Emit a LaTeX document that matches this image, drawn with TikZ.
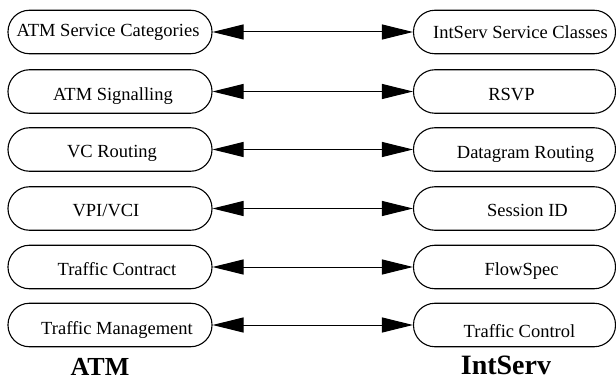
\documentclass[tikz,border=0pt]{standalone}
\usepackage{fontspec}
\setmainfont{Liberation Serif}
\usetikzlibrary{arrows.meta}
\newcommand{\tsh}[3]{\hspace*{#1pt}\raisebox{#2pt}{#3}}
\begin{document}
\begin{tikzpicture}[x=1pt,y=-1pt,
  boxL/.style={draw, line width=1.1pt, rounded corners=21.5pt, minimum width=204pt, minimum height=43.5pt, inner sep=0pt, text height=17pt, text depth=1pt, font=\fontsize{18.5}{20}\selectfont},
  boxR/.style={boxL, minimum width=202pt},
  link/.style={line width=1pt, {Triangle[length=31pt,width=15pt]}-{Triangle[length=31pt,width=15pt]}},
  title/.style={anchor=base}]
\useasboundingbox (0,0) rectangle (616,385);
\node[boxL] (l1) at (110,32) {\tsh{-4}{3}{ATM Service Categories}};
\node[boxL] (l2) at (110,91.5) {\tsh{6}{-1}{ATM Signalling}};
\node[boxL] (l3) at (110,149.5) {\tsh{4}{0}{VC Routing}};
\node[boxL] (l4) at (110,208.5) {\tsh{-8}{0}{VPI/VCI}};
\node[boxL] (l5) at (110,267) {\tsh{14}{0}{Traffic Contract}};
\node[boxL] (l6) at (110,325) {\tsh{14}{-1}{Traffic Management}};
\node[boxR] (r1) at (514.5,32) {\tsh{12}{1}{IntServ Service Classes}};
\node[boxR] (r2) at (514.5,91.5) {\tsh{-6}{-1}{RSVP}};
\node[boxR] (r3) at (514.5,149.5) {\tsh{22}{-1.5}{Datagram Routing}};
\node[boxR] (r4) at (514.5,208.5) {\tsh{26}{0}{Session ID}};
\node[boxR] (r5) at (514.5,267) {\tsh{14}{-0.5}{FlowSpec}};
\node[boxR] (r6) at (514.5,325) {\tsh{10}{-4}{Traffic Control}};
\foreach \i in {1,...,6} \draw[link] (l\i.east) -- (r\i.west);
\node[title, font=\bfseries\fontsize{26}{28}\selectfont] (atm) at (100,375) {ATM};
\node[title, font=\bfseries\fontsize{28}{30}\selectfont] (is) at (506,374) {IntServ};
\end{tikzpicture}
\end{document}
